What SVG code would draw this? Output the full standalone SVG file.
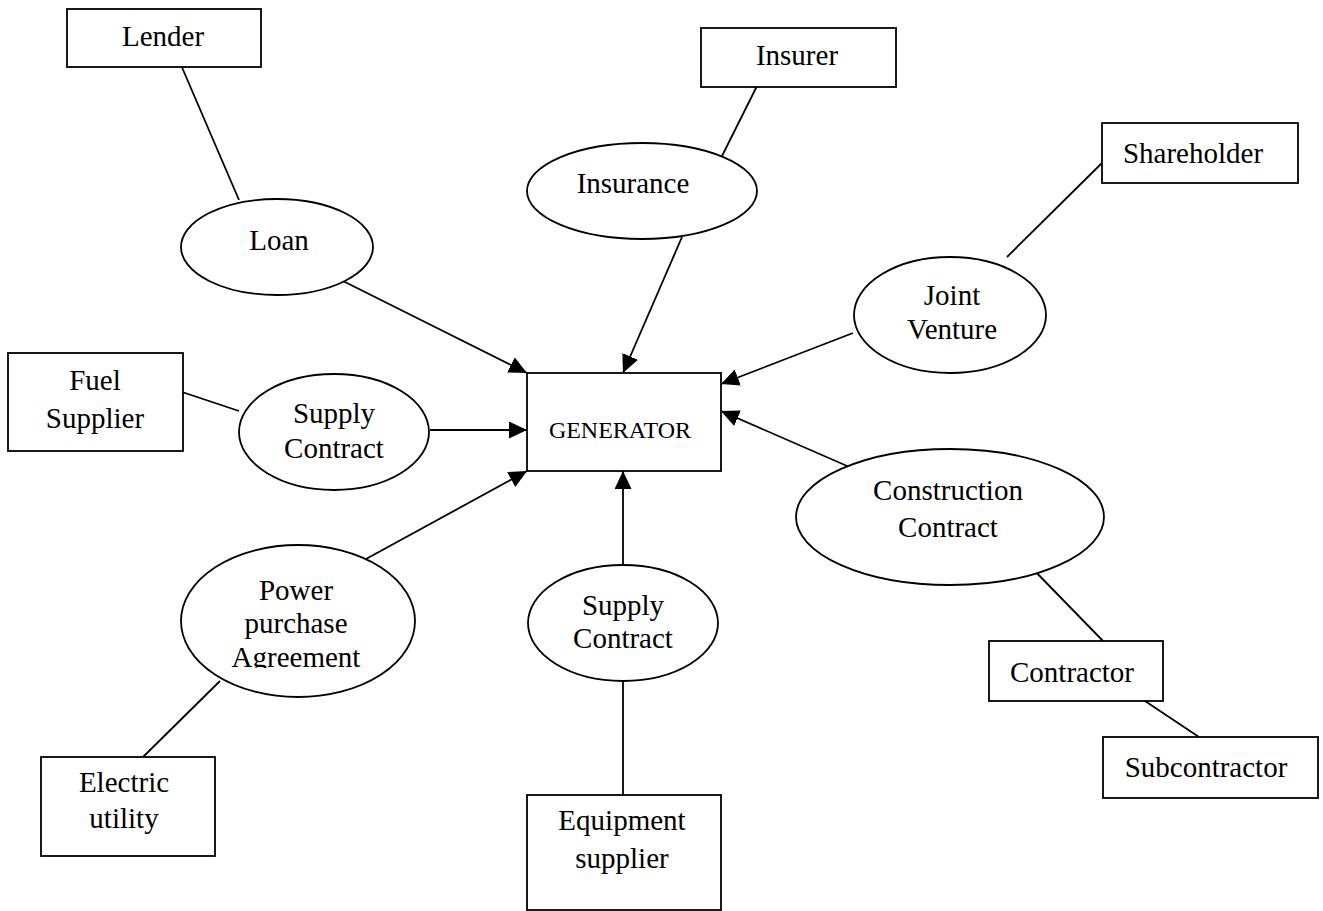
<svg xmlns="http://www.w3.org/2000/svg" width="1323" height="911" viewBox="0 0 1323 911">
<style>
.box{fill:#fff;stroke:#000;stroke-width:1.8}
.ell{fill:#fff;stroke:#000;stroke-width:1.8}
.ln{stroke:#000;stroke-width:1.8;fill:none}
.arr{stroke:#000;stroke-width:1.8;fill:none;marker-end:url(#ah)}
text{font-family:"Liberation Serif","Times New Roman",serif;font-size:29px;fill:#000;text-anchor:middle}
.gen{font-size:24px}
</style>
<defs>
<marker id="ah" markerUnits="userSpaceOnUse" markerWidth="20" markerHeight="18" refX="18" refY="8.5" orient="auto">
<path d="M0,0 L18,8.5 L0,17 z" fill="#000"/>
</marker>
<clipPath id="ppaclip"><rect x="150" y="540" width="300" height="128"/></clipPath>
</defs>
<rect width="1323" height="911" fill="#fff"/>
<g id="connectors">
<line class="ln" x1="181" y1="65" x2="239" y2="200"/>
<line class="arr" x1="335" y1="277" x2="527" y2="373"/>
<line class="ln" x1="757" y1="86" x2="719" y2="162"/>
<line class="arr" x1="682" y1="237" x2="623" y2="373"/>
<line class="ln" x1="1103" y1="162" x2="1007" y2="257"/>
<line class="arr" x1="853" y1="333" x2="721" y2="384"/>
<line class="ln" x1="182" y1="392" x2="239" y2="411"/>
<line class="arr" x1="430" y1="430" x2="527" y2="430"/>
<line class="arr" x1="355" y1="565" x2="527" y2="471"/>
<line class="ln" x1="143" y1="757" x2="220" y2="681"/>
<line class="arr" x1="623" y1="565" x2="623" y2="471"/>
<line class="ln" x1="623" y1="678" x2="623" y2="795"/>
<line class="arr" x1="854" y1="469" x2="721" y2="411"/>
<line class="ln" x1="1029" y1="565" x2="1103" y2="641"/>
<line class="ln" x1="1142" y1="699" x2="1199" y2="737"/>
</g>
<g id="generator"><rect class="box" x="527" y="373" width="194" height="98"/><text class="gen" x="620" y="438">GENERATOR</text></g>
<g id="lender"><rect class="box" x="67" y="9" width="194" height="58"/><text x="163" y="46">Lender</text></g>
<g id="loan"><ellipse class="ell" cx="277" cy="247" rx="96" ry="48"/><text x="279" y="250">Loan</text></g>
<g id="insurer"><rect class="box" x="701" y="28" width="195" height="59"/><text x="797" y="65">Insurer</text></g>
<g id="insurance"><ellipse class="ell" cx="642" cy="191" rx="115" ry="48"/><text x="633" y="193">Insurance</text></g>
<g id="shareholder"><rect class="box" x="1102" y="123" width="196" height="60"/><text x="1193" y="163">Shareholder</text></g>
<g id="joint-venture"><ellipse class="ell" cx="950" cy="315" rx="96" ry="58"/><text x="952" y="305">Joint</text><text x="952" y="339">Venture</text></g>
<g id="fuel-supplier"><rect class="box" x="8" y="353" width="175" height="98"/><text x="95" y="390">Fuel</text><text x="95" y="428">Supplier</text></g>
<g id="supply-contract-fuel"><ellipse class="ell" cx="334" cy="432" rx="95" ry="58"/><text x="334" y="423">Supply</text><text x="334" y="458">Contract</text></g>
<g id="ppa"><ellipse class="ell" cx="298" cy="621" rx="117" ry="76"/><g clip-path="url(#ppaclip)"><text x="296" y="600">Power</text><text x="296" y="633">purchase</text><text x="296" y="667">Agreement</text></g></g>
<g id="electric-utility"><rect class="box" x="41" y="757" width="174" height="99"/><text x="124" y="792">Electric</text><text x="124" y="828">utility</text></g>
<g id="supply-contract-equipment"><ellipse class="ell" cx="623" cy="623" rx="95" ry="58"/><text x="623" y="615">Supply</text><text x="623" y="648">Contract</text></g>
<g id="equipment-supplier"><rect class="box" x="527" y="795" width="194" height="115"/><text x="622" y="830">Equipment</text><text x="622" y="868">supplier</text></g>
<g id="construction-contract"><ellipse class="ell" cx="950" cy="517" rx="154" ry="68"/><text x="948" y="500">Construction</text><text x="948" y="537">Contract</text></g>
<g id="contractor"><rect class="box" x="989" y="641" width="174" height="60"/><text x="1072" y="682">Contractor</text></g>
<g id="subcontractor"><rect class="box" x="1103" y="737" width="215" height="61"/><text x="1206" y="777">Subcontractor</text></g>
</svg>
